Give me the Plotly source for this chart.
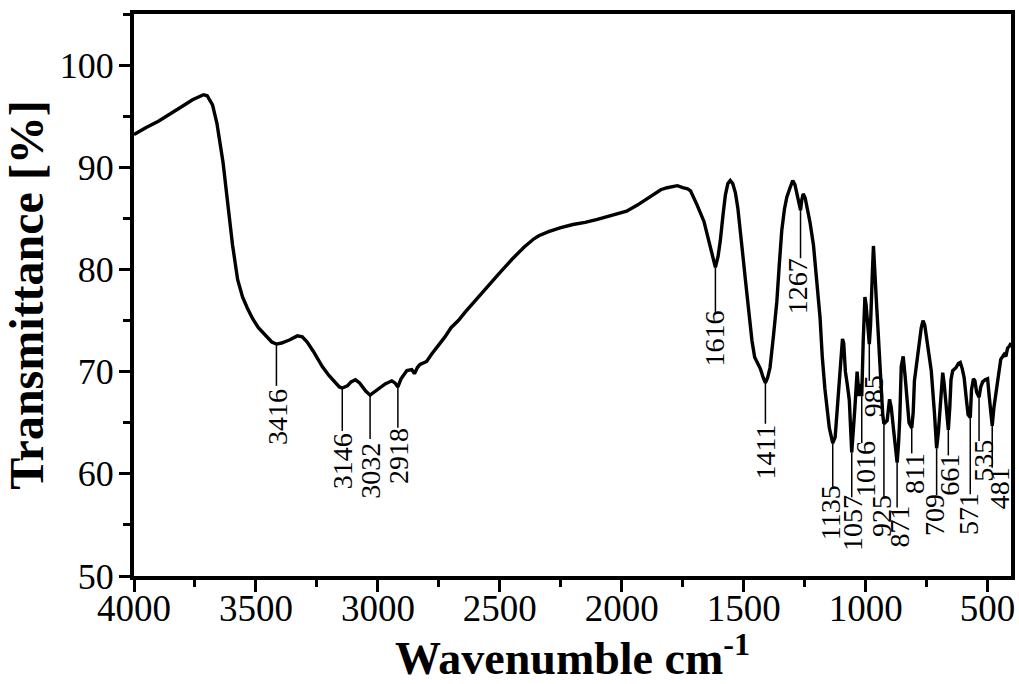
import plotly.graph_objects as go

# ---------------- data ----------------
wavenumber = [4000, 3950, 3900, 3856, 3800, 3760, 3733, 3715, 3700, 3678, 3660, 3651, 3635, 3623,
              3610, 3596, 3575, 3555, 3535, 3514, 3490, 3459, 3435, 3416, 3395, 3363, 3330, 3310,
              3290, 3265, 3245, 3228, 3200, 3174, 3158, 3146, 3125, 3110, 3092, 3075, 3050, 3032,
              3010, 2990, 2970, 2943, 2930, 2918, 2905, 2881, 2861, 2850, 2838, 2827, 2800, 2780,
              2750, 2725, 2700, 2670, 2643, 2600, 2550, 2507, 2450, 2400, 2360, 2340, 2300, 2250,
              2200, 2150, 2100, 2050, 2018, 1980, 1936, 1900, 1875, 1840, 1814, 1790, 1772, 1750,
              1730, 1718, 1700, 1691, 1663, 1636, 1625, 1616, 1605, 1596, 1585, 1575, 1565, 1555,
              1545, 1534, 1524, 1514, 1504, 1494, 1480, 1466, 1455, 1446, 1432, 1420, 1411, 1402,
              1392, 1378, 1364, 1354, 1344, 1333, 1323, 1310, 1299, 1290, 1283, 1275, 1267, 1262,
              1256, 1248, 1242, 1228, 1214, 1201, 1187, 1178, 1167, 1149, 1135, 1125, 1115, 1106,
              1095, 1090, 1083, 1075, 1067, 1057, 1050, 1044, 1035, 1027, 1022, 1016, 1010, 1003,
              998, 993, 985, 980, 976, 972, 968, 963, 955, 949, 942, 936, 930, 925, 912, 902,
              895, 885, 871, 865, 860, 854, 846, 838, 831, 822, 811, 805, 800, 790, 782, 772,
              765, 758, 752, 742, 731, 718, 709, 702, 695, 688, 684, 678, 673, 661, 655, 650,
              643, 629, 620, 612, 604, 596, 588, 580, 571, 566, 558, 552, 545, 535, 528, 520,
              510, 500, 493, 481, 474, 466, 456, 446, 432, 425, 418, 410, 404]
transmittance = [93.2, 93.9, 94.5, 95.2, 96.0, 96.6, 96.9, 97.1, 97.0, 96.1, 94.3, 93.1, 90.5, 88.0,
                 85.2, 82.4, 79.0, 77.3, 76.2, 75.2, 74.3, 73.5, 72.9, 72.7, 72.8, 73.1, 73.5, 73.4,
                 72.9, 72.0, 71.2, 70.5, 69.6, 68.9, 68.5, 68.4, 68.6, 69.0, 69.2, 68.9, 68.1, 67.7,
                 68.1, 68.5, 68.8, 69.1, 68.9, 68.5, 69.3, 70.1, 70.2, 69.8, 70.4, 70.7, 71.0, 71.7,
                 72.6, 73.4, 74.3, 75.0, 75.8, 77.0, 78.3, 79.5, 81.0, 82.2, 83.0, 83.3, 83.7, 84.1,
                 84.4, 84.6, 84.9, 85.2, 85.4, 85.7, 86.3, 86.9, 87.3, 87.8, 88.0, 88.1, 88.2, 88.0,
                 87.9, 87.7, 86.8, 86.3, 84.7, 82.1, 81.0, 80.2, 81.3, 82.8, 85.3, 87.3, 88.4, 88.7,
                 88.4, 87.5, 86.0, 84.0, 81.5, 79.2, 75.9, 73.0, 71.4, 71.0, 70.3, 69.4, 68.9, 69.4,
                 70.4, 73.5, 76.9, 80.5, 83.8, 85.9, 87.1, 88.0, 88.7, 88.3, 87.6, 86.8, 85.8, 86.8,
                 87.4, 87.0, 86.3, 84.6, 82.4, 78.5, 75.3, 71.5, 68.3, 64.5, 63.0, 63.6, 66.5, 69.0,
                 73.2, 72.8, 70.0, 68.7, 67.2, 62.1, 64.0, 66.5, 70.0, 67.6, 68.8, 67.6, 73.0, 77.3,
                 76.5, 75.0, 72.7, 74.5, 76.5, 80.0, 82.3, 80.5, 76.5, 74.0, 70.5, 68.0, 65.8, 64.9,
                 65.2, 67.3, 66.5, 64.2, 61.1, 63.0, 65.5, 70.5, 71.5, 69.5, 67.8, 65.0, 64.5, 66.0,
                 69.1, 71.0, 72.3, 74.3, 75.0, 74.6, 73.6, 71.8, 70.1, 66.0, 62.5, 64.0, 66.5, 69.5,
                 69.9, 68.8, 67.5, 64.3, 66.5, 69.2, 70.1, 70.4, 70.8, 70.9, 70.3, 69.4, 67.5, 65.8,
                 65.5, 68.2, 69.3, 69.1, 68.0, 67.5, 68.5, 69.0, 69.2, 69.3, 67.5, 64.7, 66.5, 67.8,
                 69.5, 71.2, 71.7, 71.5, 72.3, 72.5, 72.8]

peak_labels = ["3416", "3146", "3032", "2918", "1616", "1411", "1267", "1135", "1057", "1016",
               "985", "925", "871", "811", "709", "661", "571", "535", "481"]
peak_t = [72.7, 68.4, 67.7, 68.5, 80.2, 68.9, 85.8, 63.0, 62.1, 67.6,
          72.7, 64.9, 61.1, 64.5, 62.5, 64.3, 65.5, 67.5, 64.7]
leader_end_t = [68.6, 64.2, 63.4, 64.5, 75.6, 64.9, 81.1, 58.7, 57.7, 63.0,
                69.1, 57.7, 56.7, 62.0, 57.9, 61.8, 58.0, 63.2, 60.6]
label_x = [3412, 3144, 3028, 2915, 1619, 1412, 1280, 1144, 1051, 1001,
           969, 936, 861, 797, 718, 654, 579, 518, 453]
label_t = [65.6, 61.2, 60.3, 61.7, 73.2, 62.1, 78.4, 56.2, 55.2, 60.5,
           67.6, 55.9, 54.8, 60.0, 56.0, 59.9, 56.1, 61.3, 58.6]

# ---------------- figure ----------------
FONT = "Liberation Serif, Times New Roman, serif"
fig = go.Figure()
fig.add_trace(go.Scatter(x=wavenumber, y=transmittance, mode="lines",
                         line=dict(color="black", width=3.4), hoverinfo="skip",
                         showlegend=False))

# leader lines
lx, ly = [], []
for lab, t0, t1 in zip(peak_labels, peak_t, leader_end_t):
    lx += [float(lab), float(lab), None]
    ly += [t0, t1, None]
fig.add_trace(go.Scatter(x=lx, y=ly, mode="lines", line=dict(color="black", width=1.5),
                         hoverinfo="skip", showlegend=False))

for lab, xx, yy in zip(peak_labels, label_x, label_t):
    fig.add_annotation(x=xx, y=yy, text=lab, showarrow=False, textangle=-90,
                       xanchor="center", yanchor="middle",
                       font=dict(family=FONT, size=28, color="black"))

fig.update_xaxes(range=[4000, 404], tickmode="linear", tick0=4000, dtick=500,
                 ticks="outside", ticklen=12, tickwidth=3, tickcolor="black",
                 showline=True, linewidth=4, linecolor="black", mirror=True,
                 showgrid=False, zeroline=False, ticklabelstandoff=-15,
                 minor=dict(ticks="outside", ticklen=7, tickwidth=3, tickcolor="black",
                            tick0=4000, dtick=250, showgrid=False),
                 tickfont=dict(family=FONT, size=37, color="black"),
                 title=dict(text="<b>Wavenumble cm<sup>-1</sup></b>",
                            font=dict(family=FONT, size=46, color="black"), standoff=7))
fig.update_yaxes(range=[50, 105], tickmode="linear", tick0=50, dtick=10,
                 ticks="outside", ticklen=11, tickwidth=3, tickcolor="black",
                 showline=True, linewidth=4, linecolor="black", mirror=True,
                 showgrid=False, zeroline=False, ticklabelstandoff=-2,
                 minor=dict(ticks="outside", ticklen=7, tickwidth=3, tickcolor="black",
                            tick0=50, dtick=5, showgrid=False),
                 tickfont=dict(family=FONT, size=36, color="black"),
                 title=dict(text="<b>Transmittance [%]</b>",
                            font=dict(family=FONT, size=48, color="black"), standoff=7))

fig.update_layout(width=1019, height=684, margin=dict(l=134, r=4, t=14, b=108),
                  plot_bgcolor="white", paper_bgcolor="white", showlegend=False)

fig.write_html("out.html", config={"displayModeBar": False},
               post_script="document.body.style.margin='0';document.body.style.padding='0';")
